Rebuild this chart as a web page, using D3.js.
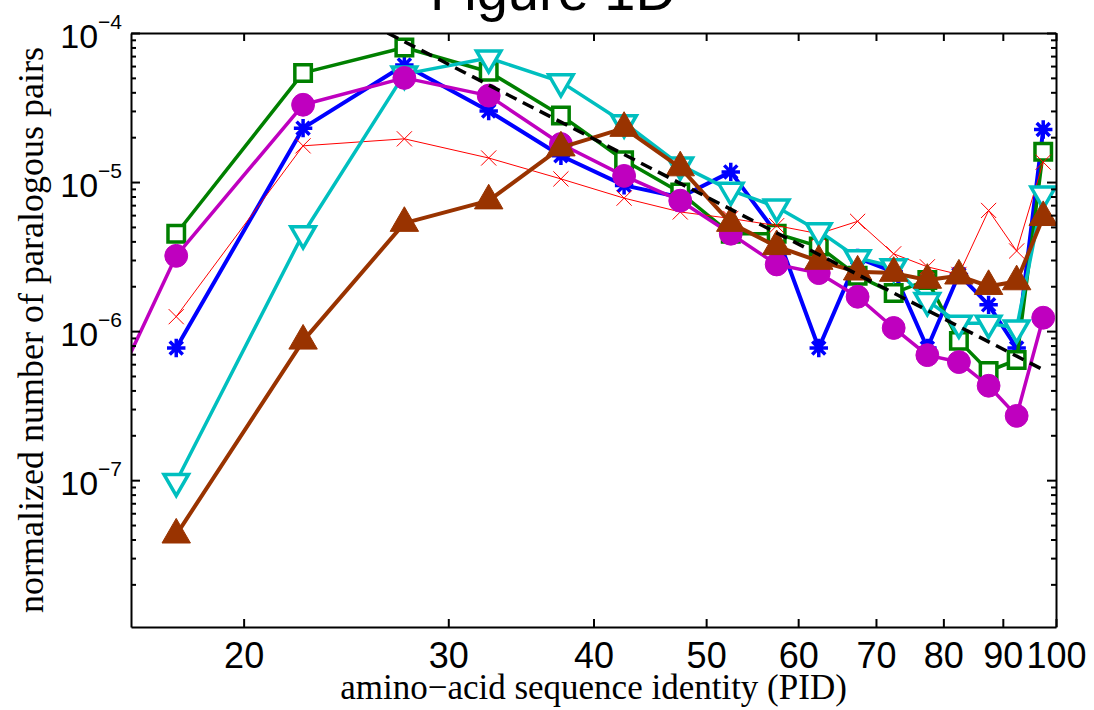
<!DOCTYPE html>
<html>
<head>
<meta charset="utf-8">
<script src="https://cdn.jsdelivr.net/npm/d3@7"></script>
<style>
body { margin: 0; background: #fff; }
svg { display: block; }
.axis path, .axis line { stroke: #000; stroke-width: 2; }
.axis text { fill: #000; font-family: "Liberation Sans", Arial, sans-serif; }
</style>
</head>
<body>
<div id="chart"></div>
<script>
// bin centres (PID, %)
var pid = [17.5, 22.5, 27.5, 32.5, 37.5, 42.5, 47.5, 52.5, 57.5, 62.5, 67.5, 72.5, 77.5, 82.5, 87.5, 92.5, 97.5];
// magenta curve starts one bin earlier (off the axes)
var pidCircle = [12.5, 17.5, 22.5, 27.5, 32.5, 37.5, 42.5, 47.5, 52.5, 57.5, 62.5, 67.5, 72.5, 77.5, 82.5, 87.5, 92.5, 97.5];

var starVals    = [7.7e-7, 2.3e-5, 6.1e-5, 3.0e-5, 1.5e-5, 9.5e-6, 7.9e-6, 1.17e-5, 4.5e-6, 7.7e-7, 3.1e-6, 2.5e-6, 7.7e-7, 2.4e-6, 1.5e-6, 7.7e-7, 2.25e-5];
var squareVals  = [4.5e-6, 5.4e-5, 8.0e-5, 5.5e-5, 2.8e-5, 1.4e-5, 8.5e-6, 4.5e-6, 4.5e-6, 3.7e-6, 2.35e-6, 1.8e-6, 2.2e-6, 8.6e-7, 5.4e-7, 6.4e-7, 1.6e-5];
var crossVals   = [1.25e-6, 1.75e-5, 1.95e-5, 1.45e-5, 1.05e-5, 7.8e-6, 6.3e-6, 5.7e-6, 5.1e-6, 4.5e-6, 5.45e-6, 3.3e-6, 2.7e-6, 2.4e-6, 6.45e-6, 3.45e-6, 1.36e-5];
var triDownVals = [9.8e-8, 4.5e-6, 5.3e-5, 6.8e-5, 4.7e-5, 2.5e-5, 1.3e-5, 8.8e-6, 6.8e-6, 4.7e-6, 3.1e-6, 2.7e-6, 1.6e-6, 1.13e-6, 1.13e-6, 1.05e-6, 8.3e-6];
var circleVals  = [1.2e-8, 3.2e-6, 3.3e-5, 5.0e-5, 3.8e-5, 1.8e-5, 1.1e-5, 7.5e-6, 4.5e-6, 2.8e-6, 2.45e-6, 1.7e-6, 1.05e-6, 6.9e-7, 6.2e-7, 4.3e-7, 2.7e-7, 1.23e-6];
var triUpVals   = [4.3e-8, 8.6e-7, 5.3e-6, 7.5e-6, 1.7e-5, 2.3e-5, 1.25e-5, 5.3e-6, 3.7e-6, 2.95e-6, 2.5e-6, 2.45e-6, 2.2e-6, 2.35e-6, 2.0e-6, 2.15e-6, 5.8e-6];

// dashed power-law guide (end points)
var fitX = [26.6, 97.5];
var fitY = [1e-4, 5.5e-7];

var xTicks = [20, 30, 40, 50, 60, 70, 80, 90, 100];
var yTicks = [1e-7, 1e-6, 1e-5, 1e-4];

var margin = {top: 33, right: 38, bottom: 83, left: 131},
    width = 1094 - margin.left - margin.right,
    height = 710 - margin.top - margin.bottom;

var x = d3.scaleLog().domain([16, 100]).range([0, width]);
var y = d3.scaleLog().domain([1.035e-8, 1e-4]).range([height, 0]);

// matlab-like markers
var symAsterisk = {
    draw: function(ctx, size) {
        var r = Math.sqrt(size) / 2, d = r * Math.SQRT1_2;
        ctx.moveTo(-r, 0); ctx.lineTo(r, 0);
        ctx.moveTo(0, -r); ctx.lineTo(0, r);
        ctx.moveTo(-d, -d); ctx.lineTo(d, d);
        ctx.moveTo(-d, d); ctx.lineTo(d, -d);
    }
};
var symX = {
    draw: function(ctx, size) {
        var r = Math.sqrt(size) / 2;
        ctx.moveTo(-r, -r); ctx.lineTo(r, r);
        ctx.moveTo(-r, r); ctx.lineTo(r, -r);
    }
};

function zip(xs, ys) {
    return xs.map(function(v, i) { return {x: v, y: ys[i]}; });
}

var series = [
    {data: zip(pid, starVals),       color: "#0000ff", lw: 4,   sym: symAsterisk,        size: 340, fill: "none",    mlw: 3.5, rot: 0},
    {data: zip(pid, squareVals),     color: "#008000", lw: 3.5, sym: d3.symbolSquare,    size: 272, fill: "#ffffff", mlw: 3.5, rot: 0},
    {data: zip(pid, crossVals),      color: "#ff0000", lw: 1,   sym: symX,               size: 230, fill: "none",    mlw: 1,   rot: 0},
    {data: zip(pid, triDownVals),    color: "#00bfbf", lw: 3.5, sym: d3.symbolTriangle,  size: 260, fill: "#ffffff", mlw: 3.5, rot: 180},
    {data: zip(pidCircle, circleVals), color: "#bf00bf", lw: 3.5, sym: d3.symbolCircle,  size: 410, fill: "#bf00bf", mlw: 1,   rot: 0},
    {data: zip(pid, triUpVals),      color: "#993300", lw: 4,   sym: d3.symbolTriangle,  size: 350, fill: "#993300", mlw: 1,   rot: 0}
];

var svg = d3.select("#chart").append("svg")
    .attr("width", width + margin.left + margin.right)
    .attr("height", height + margin.top + margin.bottom);

var chart = svg.append("g")
    .attr("transform", "translate(" + margin.left + "," + margin.top + ")");

chart.append("clipPath").attr("id", "plotclip")
    .append("rect").attr("width", width).attr("height", height);

var plot = chart.append("g").attr("clip-path", "url(#plotclip)");

var line = d3.line()
    .x(function(d) { return x(d.x); })
    .y(function(d) { return y(d.y); });

series.forEach(function(s) {
    var g = plot.append("g");
    g.append("path")
        .datum(s.data)
        .attr("fill", "none")
        .attr("stroke", s.color)
        .attr("stroke-width", s.lw)
        .attr("stroke-linejoin", "round")
        .attr("d", line);
    g.selectAll(".mk")
        .data(s.data)
        .enter().append("path")
        .attr("class", "mk")
        .attr("transform", function(d) { return "translate(" + x(d.x) + "," + y(d.y) + ") rotate(" + s.rot + ")"; })
        .attr("d", d3.symbol().type(s.sym).size(s.size))
        .attr("fill", s.fill)
        .attr("stroke", s.color)
        .attr("stroke-width", s.mlw);
});

// dashed guide
plot.append("path")
    .datum(zip(fitX, fitY))
    .attr("fill", "none")
    .attr("stroke", "#000")
    .attr("stroke-width", 3.5)
    .attr("stroke-dasharray", "12,7")
    .attr("d", line);

// axes
var yMinor = y.ticks().filter(function(d) { return Math.abs(Math.log10(d) - Math.round(Math.log10(d))) > 1e-6; });

chart.append("g").attr("class", "axis")
    .attr("transform", "translate(0," + height + ")")
    .call(d3.axisBottom(x).tickValues(xTicks).tickSize(-8).tickSizeOuter(0).tickPadding(15).tickFormat(d3.format("d")))
    .selectAll("text").style("font-size", "36px");

chart.append("g").attr("class", "axis")
    .call(d3.axisTop(x).tickValues(xTicks).tickSize(-8).tickSizeOuter(0).tickFormat(""));

var yAxis = chart.append("g").attr("class", "axis")
    .call(d3.axisLeft(y).tickValues(yTicks).tickSize(-9).tickSizeOuter(0).tickPadding(9).tickFormat(""));

yAxis.selectAll(".tick text").each(function(d) {
    var t = d3.select(this).attr("dy", 14).style("font-size", "34px");
    t.append("tspan").text("10");
    t.append("tspan").attr("dy", -19).style("font-size", "21px")
        .text("\u2212" + Math.abs(Math.round(Math.log10(d))));
});

chart.append("g").attr("class", "axis")
    .call(d3.axisLeft(y).tickValues(yMinor).tickSize(-5).tickFormat(""))
    .select(".domain").remove();

chart.append("g").attr("class", "axis")
    .attr("transform", "translate(" + width + ",0)")
    .call(d3.axisRight(y).tickValues(yTicks).tickSize(-9).tickSizeOuter(0).tickFormat(""));

chart.append("g").attr("class", "axis")
    .attr("transform", "translate(" + width + ",0)")
    .call(d3.axisRight(y).tickValues(yMinor).tickSize(-5).tickFormat(""))
    .select(".domain").remove();

// labels
chart.append("text")
    .attr("x", width / 2)
    .attr("y", 666)
    .style("text-anchor", "middle")
    .style("font-family", "'Liberation Serif', 'Times New Roman', serif")
    .style("font-size", "35px")
    .text("amino\u2212acid sequence identity (PID)");

chart.append("text")
    .attr("transform", "rotate(-90)")
    .attr("x", -297)
    .attr("y", -88)
    .style("text-anchor", "middle")
    .style("font-family", "'Liberation Serif', 'Times New Roman', serif")
    .style("font-size", "36px")
    .text("normalized number of paralogous pairs");

chart.append("text")
    .attr("x", 422)
    .attr("y", -23)
    .style("text-anchor", "middle")
    .style("font-family", "'Liberation Sans', Arial, sans-serif")
    .style("font-size", "56px")
    .text("Figure 1D");
</script>
</body>
</html>
